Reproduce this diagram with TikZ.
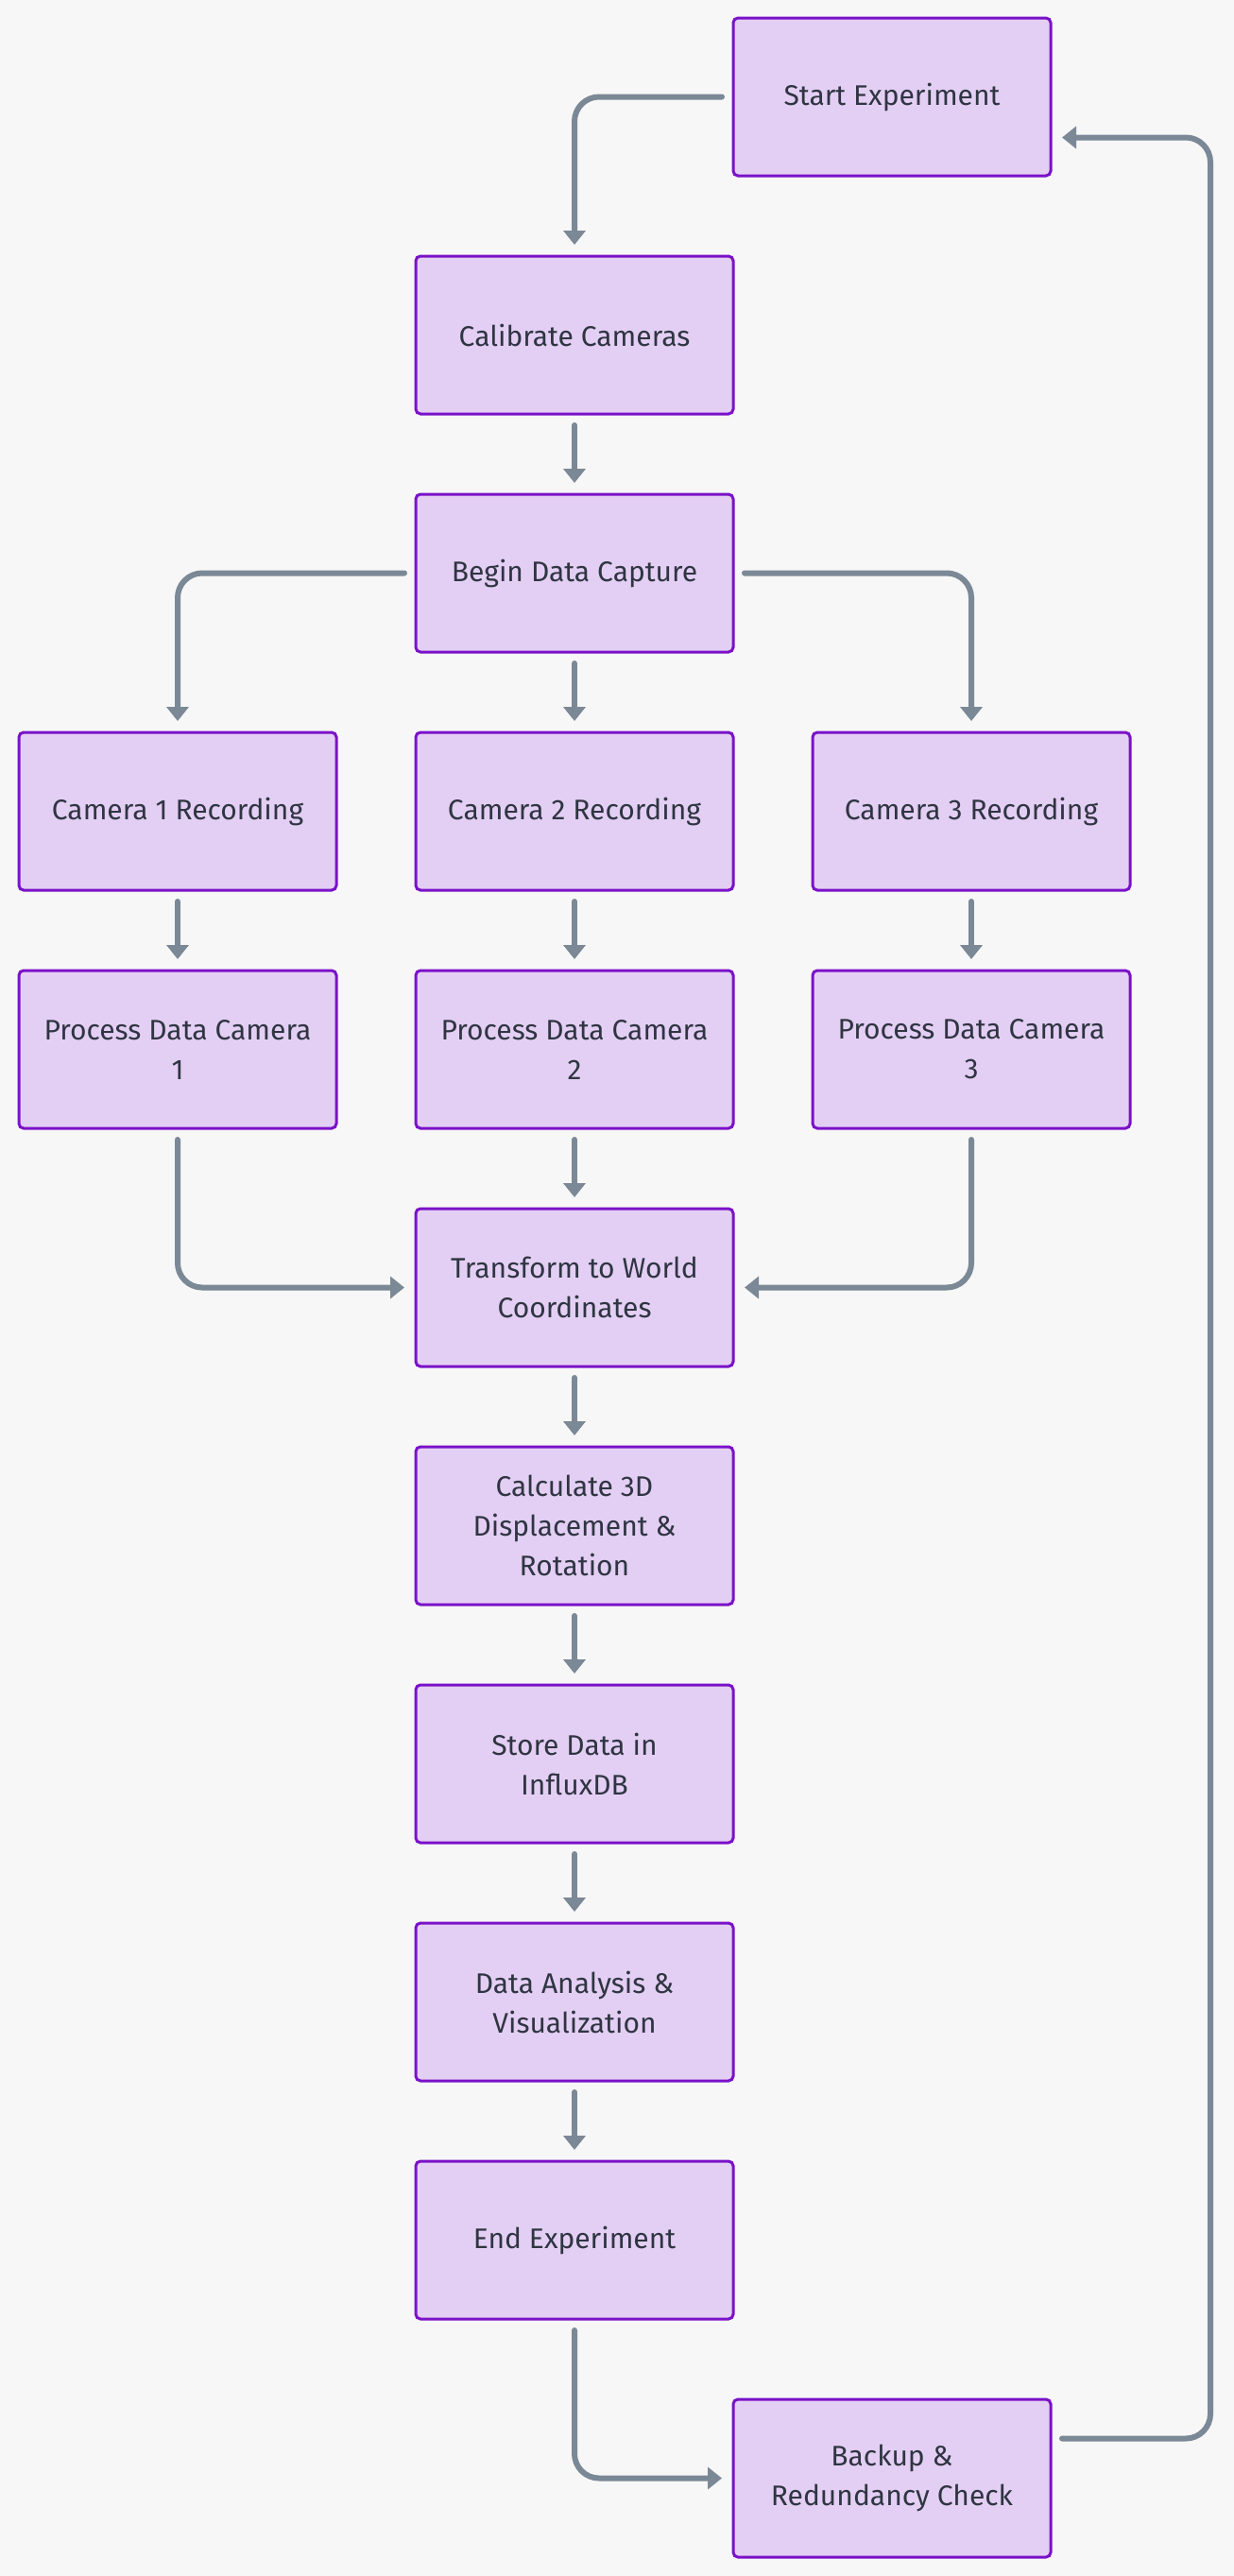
\documentclass[tikz,border=0pt]{standalone}
\usepackage{fontspec}
\setmainfont{Fira Sans}
\usetikzlibrary{positioning,arrows.meta,calc}
\definecolor{bgcol}{HTML}{F7F7F7}
\definecolor{boxfill}{HTML}{E4CFF4}
\definecolor{boxline}{HTML}{7A12C8}
\definecolor{linkcol}{HTML}{7B8896}
\definecolor{txtcol}{HTML}{2F3542}

\begin{document}
\begin{tikzpicture}[
    font=\fontsize{15}{21}\selectfont,
    stepbox/.style={
        draw=boxline,
        fill=boxfill,
        line width=1.5pt,
        rounded corners=2.5pt,
        text=txtcol,
        minimum width=168pt,
        minimum height=83.5pt,
        inner sep=0pt,
        outer sep=0pt,
        align=center
    },
    flow/.style={
        draw=linkcol,
        line width=3pt,
        line cap=round,
        rounded corners=13pt,
        -{Triangle[width=11.5pt,length=7.5pt]},
        shorten >=6pt,
        shorten <=6pt
    },
    node distance=42.5pt and 42pt
]

% background and page size
\fill[bgcol] (0,0) rectangle (653pt,-1363pt);
\useasboundingbox (0,0) rectangle (653pt,-1363pt);

% ============================================================
% START AND CAPTURE
% ============================================================
\node[stepbox] (calib) at (304pt,-177.25pt) {Calibrate Cameras};
\node[stepbox, above right=42.5pt and 0pt of calib] (start) {Start Experiment};
\node[stepbox, below=of calib] (begin) {Begin Data Capture};

\draw[flow] (start.west) -| (calib.north);
\draw[flow] (calib) -- (begin);

% ============================================================
% THREE CAMERAS
% ============================================================
\node[stepbox, below=of begin] (cam2) {Camera 2 Recording};
\node[stepbox, left=of cam2] (cam1) {Camera 1 Recording};
\node[stepbox, right=of cam2] (cam3) {Camera 3 Recording};

\node[stepbox, below=of cam1] (proc1) {Process Data Camera\\1};
\node[stepbox, below=of cam2] (proc2) {Process Data Camera\\2};
\node[stepbox, below=of cam3] (proc3) {Process Data Camera\\3};

\draw[flow] (begin.west) -| (cam1.north);
\draw[flow] (begin) -- (cam2);
\draw[flow] (begin.east) -| (cam3.north);

\draw[flow] (cam1) -- (proc1);
\draw[flow] (cam2) -- (proc2);
\draw[flow] (cam3) -- (proc3);

% ============================================================
% MERGE AND EVALUATION
% ============================================================
\node[stepbox, below=of proc2] (world) {Transform to World\\Coordinates};
\node[stepbox, below=of world] (calc) {Calculate 3D\\Displacement \&\\Rotation};
\node[stepbox, below=of calc] (store) {Store Data in\\InfluxDB};
\node[stepbox, below=of store] (analysis) {Data Analysis \&\\Visualization};
\node[stepbox, below=of analysis] (finish) {End Experiment};
\node[stepbox, below right=42.5pt and 0pt of finish] (backup) {Backup \&\\Redundancy Check};

\draw[flow] (proc1.south) |- (world.west);
\draw[flow] (proc2) -- (world);
\draw[flow] (proc3.south) |- (world.east);

\draw[flow] (world) -- (calc);
\draw[flow] (calc) -- (store);
\draw[flow] (store) -- (analysis);
\draw[flow] (analysis) -- (finish);
\draw[flow] (finish.south) |- (backup.west);

% loop back to the start
\coordinate[right=84.5pt of start.east] (loopx);
\draw[flow] ([yshift=21pt]backup.east) -- ([yshift=21pt]backup.east -| loopx)
    |- ([yshift=-21.5pt]start.east);

\end{tikzpicture}
\end{document}
